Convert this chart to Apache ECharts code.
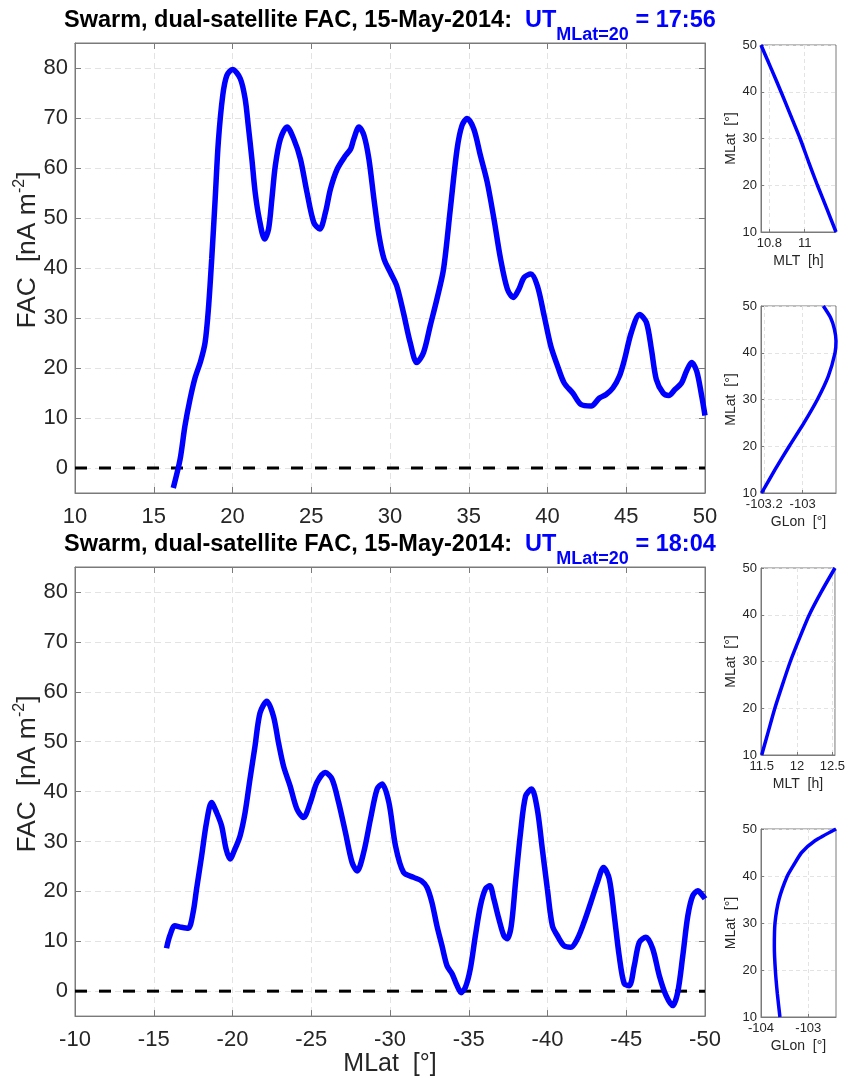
<!DOCTYPE html>
<html><head><meta charset="utf-8">
<script src="https://cdn.jsdelivr.net/npm/echarts@6/dist/echarts.min.js"></script>
<style>html,body{margin:0;padding:0;background:#fff}#c{width:848px;height:1078px}</style>
</head><body><div id="c"></div>
<script>
// ---- data ----
const topMLat = [16.24,16.67,16.98,17.30,17.62,17.98,18.26,18.47,18.68,18.90,19.10,19.38,19.64,20.00,20.49,20.80,21.00,21.23,21.44,21.70,22.04,22.29,22.50,22.72,23.04,23.46,23.89,24.31,24.73,25.16,25.54,25.90,26.22,26.65,27.18,27.50,27.70,28.03,28.35,28.66,28.98,29.30,29.62,30.04,30.43,30.85,31.28,31.70,32.13,32.55,32.98,33.40,33.83,34.26,34.57,34.89,35.32,35.74,36.17,36.60,37.02,37.45,37.83,38.19,38.51,38.94,39.36,39.79,40.21,40.64,41.06,41.60,42.13,42.77,43.30,43.72,44.15,44.57,44.89,45.32,45.85,46.28,46.60,46.91,47.34,47.70,48.09,48.51,48.83,49.15,49.47,49.79,50.00];
const topFAC  = [-4.0,1.7,8.4,13.7,18.0,21.4,25.1,31.8,41.8,53.8,65.2,74.5,78.5,79.7,77.9,73.9,68.5,61.8,55.1,49.8,45.8,47.8,53.8,60.5,65.8,68.2,65.8,61.8,55.1,49.1,47.8,51.1,55.8,59.8,62.5,63.8,65.8,68.2,66.5,61.8,53.8,46.5,41.8,39.0,36.4,31.1,25.1,21.1,23.1,28.4,33.8,39.8,51.8,63.8,68.5,69.9,67.8,62.5,57.2,49.8,41.8,35.8,34.1,35.8,38.1,38.8,36.4,30.4,24.4,20.4,17.0,15.0,12.7,12.4,14.0,14.7,16.0,18.4,21.7,27.1,30.7,29.1,23.7,17.7,15.0,14.5,15.7,17.0,19.4,21.1,19.4,14.4,10.5];
const botMLat = [-15.81,-16.02,-16.34,-16.76,-17.19,-17.50,-17.72,-18.04,-18.35,-18.67,-18.99,-19.31,-19.59,-19.84,-20.16,-20.48,-20.80,-21.11,-21.43,-21.75,-22.18,-22.60,-22.92,-23.24,-23.66,-24.09,-24.51,-24.94,-25.36,-25.89,-26.32,-26.74,-27.17,-27.59,-27.91,-28.33,-28.76,-29.18,-29.50,-29.93,-30.35,-30.86,-31.50,-32.00,-32.35,-32.66,-32.98,-33.30,-33.62,-33.94,-34.26,-34.51,-34.79,-35.10,-35.42,-35.74,-36.06,-36.34,-36.59,-36.91,-37.23,-37.44,-37.70,-37.97,-38.29,-38.61,-38.99,-39.35,-39.67,-39.99,-40.31,-40.63,-41.05,-41.48,-41.90,-42.32,-42.75,-43.17,-43.56,-43.92,-44.24,-44.55,-44.87,-45.19,-45.51,-45.83,-46.25,-46.68,-47.10,-47.53,-47.95,-48.27,-48.59,-48.91,-49.22,-49.54,-49.86,-50.00];
const botFAC  = [8.6,11.1,13.1,12.8,12.6,15.8,20.5,27.1,33.8,37.8,35.8,33.1,28.5,26.5,28.5,31.1,35.8,42.5,49.1,55.8,58.1,55.1,49.8,45.1,41.1,36.5,34.8,37.8,41.8,43.8,42.5,37.8,31.8,25.8,24.1,27.8,34.5,40.5,41.5,37.8,29.1,23.8,22.8,22.1,20.8,17.8,13.1,9.1,5.1,3.5,1.1,-0.3,0.8,4.5,11.1,17.1,20.5,21.1,18.5,14.5,11.1,10.5,13.1,21.8,31.8,39.1,40.5,36.5,28.5,20.5,13.1,11.1,9.1,8.8,10.5,13.8,17.8,21.8,24.8,22.5,15.1,7.1,1.5,1.1,5.1,9.8,10.8,8.5,3.1,-0.9,-2.9,-0.2,7.1,15.1,19.1,20.1,19.1,18.5];

// side panels (top pass)
const p1MLat = [10,15,20,25,30,35,40,45,50];
const p1MLT  = [11.177,11.125,11.072,11.022,10.974,10.920,10.866,10.810,10.753];
const p2MLat = [10,15,20,25,30,35,40,42.5,45,47.5,50];
const p2GLon = [-103.214,-103.144,-103.070,-102.993,-102.923,-102.866,-102.831,-102.826,-102.834,-102.854,-102.892];
// side panels (bottom pass)
const p3MLat = [10,15,20,25,30,35,40,45,50];
const p3MLT  = [11.500,11.593,11.686,11.793,11.905,12.035,12.174,12.347,12.537];
const p4MLat = [10,15,20,25,30,35,40,42.5,45,47.5,50];
const p4GLon = [-103.600,-103.655,-103.697,-103.718,-103.704,-103.620,-103.444,-103.300,-103.141,-102.860,-102.415];

const p1Ticks = [10.8, 11];
const p2Ticks = [-103.2, -103];
const p3Ticks = [11.5, 12, 12.5];
const p4Ticks = [-104, -103];

const titleText = 'Swarm, dual-satellite FAC, 15-May-2014:';
const topUT = '17:56';
const botUT = '18:04';

// ---- chart ----
const FF = '"Liberation Sans", Arial, Helvetica, sans-serif';
const TXT = '#262626';
const AX = '#7a7a7a';
const GRIDC = '#e3e3e3';
const BLUE = '#0000ff';
const zip = (a, b) => a.map((v, i) => [v, b[i]]);

const chart = echarts.init(document.getElementById('c'), null, {renderer: 'canvas'});

function mainX(gi, min, max, inverse, name) {
  return {
    gridIndex: gi, type: 'value', min, max, interval: 5, inverse: !!inverse,
    position: 'bottom',
    axisLine: {show: true, onZero: false, lineStyle: {color: AX, width: 1}},
    axisTick: {show: true, inside: true, length: 6, lineStyle: {color: AX}},
    axisLabel: {color: TXT, fontSize: 22, fontFamily: FF, margin: 13},
    splitLine: {show: true, lineStyle: {color: GRIDC, type: [6, 4], width: 1}},
    name: name || '', nameLocation: 'middle', nameGap: 35,
    nameTextStyle: {color: TXT, fontSize: 25, fontFamily: FF}
  };
}
function mainXTop(gi, min, max, inverse) {
  return {
    gridIndex: gi, type: 'value', min, max, interval: 5, inverse: !!inverse,
    position: 'top',
    axisLine: {show: true, onZero: false, lineStyle: {color: AX, width: 1}},
    axisTick: {show: true, inside: true, length: 6, lineStyle: {color: AX}},
    axisLabel: {show: false}, splitLine: {show: false}
  };
}
function mainY(gi) {
  return {
    gridIndex: gi, type: 'value', min: -5, max: 85, splitNumber: 9, position: 'left',
    axisLine: {show: true, onZero: false, lineStyle: {color: AX, width: 1}},
    axisTick: {show: true, inside: true, length: 6, lineStyle: {color: AX}},
    axisLabel: {color: TXT, fontSize: 22, fontFamily: FF, margin: 7, showMinLabel: false, showMaxLabel: false},
    splitLine: {show: true, lineStyle: {color: GRIDC, type: [6, 4], width: 1}}
  };
}
function mainYRight(gi) {
  return {
    gridIndex: gi, type: 'value', min: -5, max: 85, splitNumber: 9, position: 'right',
    axisLine: {show: true, onZero: false, lineStyle: {color: AX, width: 1}},
    axisTick: {show: true, inside: true, length: 6, lineStyle: {color: AX}},
    axisLabel: {show: false}, splitLine: {show: false}
  };
}
function smallX(gi, min, max, ticks, name) {
  return {
    gridIndex: gi, type: 'value', min, max, position: 'bottom',
    axisLine: {show: true, onZero: false, lineStyle: {color: AX, width: 1}},
    axisTick: {show: true, inside: true, length: 3, customValues: ticks, lineStyle: {color: AX}},
    axisLabel: {color: TXT, fontSize: 13, fontFamily: FF, margin: 5, customValues: ticks, hideOverlap: false},
    splitLine: {show: true, lineStyle: {color: GRIDC, type: [4, 3], width: 1}},
    name, nameLocation: 'middle', nameGap: 22,
    nameTextStyle: {color: TXT, fontSize: 14, fontFamily: FF}
  };
}
function smallY(gi) {
  return {
    gridIndex: gi, type: 'value', min: 10, max: 50, interval: 10, position: 'left',
    axisLine: {show: true, onZero: false, lineStyle: {color: AX, width: 1}},
    axisTick: {show: true, inside: true, length: 3, lineStyle: {color: AX}},
    axisLabel: {color: TXT, fontSize: 13, fontFamily: FF, margin: 4},
    splitLine: {show: true, lineStyle: {color: GRIDC, type: [4, 3], width: 1}},
    name: 'MLat  [°]', nameLocation: 'middle', nameGap: 20,
    nameTextStyle: {color: TXT, fontSize: 14, fontFamily: FF}
  };
}

const title = (y, ut) => ({
  type: 'text', left: 64, top: y, z: 100,
  style: {
    text: '{k|' + titleText + '  }{b|UT}{s|MLat=20}{b| = ' + ut + '}',
    rich: {
      k: {fontSize: 23.5, fontWeight: 'bold', fontFamily: FF, fill: '#000', color: '#000', lineHeight: 46},
      b: {fontSize: 23.5, fontWeight: 'bold', fontFamily: FF, fill: BLUE, color: BLUE, lineHeight: 46},
      s: {fontSize: 18, fontWeight: 'bold', fontFamily: FF, fill: BLUE, color: BLUE, verticalAlign: 'bottom'}
    }
  }
});
const ylab = (cy) => ({
  type: 'text', x: 28, y: cy, rotation: Math.PI / 2, z: 100,
  style: {
    text: '{a|FAC  [nA m}{s|-2}{a|]}', align: 'center', verticalAlign: 'middle',
    rich: {
      a: {fontSize: 26.5, fontFamily: FF, fill: TXT, color: TXT, lineHeight: 32},
      s: {fontSize: 16, fontFamily: FF, fill: TXT, color: TXT, verticalAlign: 'top', lineHeight: 17}
    }
  }
});

const lineSeries = (xi, yi, data, w, extra) => Object.assign({
  type: 'line', xAxisIndex: xi, yAxisIndex: yi, data, showSymbol: false, symbol: 'none',
  smooth: 0.3, lineStyle: {color: BLUE, width: w}, silent: true, z: 3
}, extra || {});

const option = {
  animation: false,
  backgroundColor: '#fff',
  grid: [
    {left: 75, top: 43, width: 630, height: 450, show: true, borderColor: AX, borderWidth: 1},
    {left: 75, top: 567, width: 630, height: 450, show: true, borderColor: AX, borderWidth: 1},
    {left: 761, top: 45, width: 75, height: 187, show: true, borderColor: AX, borderWidth: 1},
    {left: 761, top: 306, width: 75, height: 187, show: true, borderColor: AX, borderWidth: 1},
    {left: 761, top: 568, width: 75, height: 187, show: true, borderColor: AX, borderWidth: 1},
    {left: 761, top: 829, width: 75, height: 188, show: true, borderColor: AX, borderWidth: 1}
  ],
  xAxis: [
    mainX(0, 10, 50, false, ''),
    mainXTop(0, 10, 50, false),
    mainX(1, -50, -10, true, 'MLat  [°]'),
    mainXTop(1, -50, -10, true),
    smallX(2, 10.753, 11.177, p1Ticks, 'MLT  [h]'),
    smallX(3, -103.217, -102.826, p2Ticks, 'GLon  [°]'),
    smallX(4, 11.49, 12.537, p3Ticks, 'MLT  [h]'),
    smallX(5, -104, -102.415, p4Ticks, 'GLon  [°]')
  ],
  yAxis: [
    mainY(0), mainYRight(0), mainY(1), mainYRight(1),
    smallY(2), smallY(3), smallY(4), smallY(5)
  ],
  graphic: [title(9, topUT), title(533, botUT), ylab(250), ylab(774)],
  series: [
    {type: 'line', xAxisIndex: 0, yAxisIndex: 0, data: [[10, 0], [50, 0]], showSymbol: false, symbol: 'none',
     lineStyle: {color: '#000', width: 3, type: [12, 12]}, silent: true, z: 2},
    lineSeries(0, 0, zip(topMLat, topFAC), 5.5),
    {type: 'line', xAxisIndex: 2, yAxisIndex: 2, data: [[-10, 0], [-50, 0]], showSymbol: false, symbol: 'none',
     lineStyle: {color: '#000', width: 3, type: [12, 12]}, silent: true, z: 2},
    lineSeries(2, 2, zip(botMLat, botFAC), 5.5),
    lineSeries(4, 4, zip(p1MLT, p1MLat), 3.5, {smooth: 0.2}),
    lineSeries(5, 5, zip(p2GLon, p2MLat), 3.5, {smooth: 0.2}),
    lineSeries(6, 6, zip(p3MLT, p3MLat), 3.5, {smooth: 0.2}),
    lineSeries(7, 7, zip(p4GLon, p4MLat), 3.5, {smooth: 0.2})
  ]
};
chart.setOption(option);
</script>
</body></html>
